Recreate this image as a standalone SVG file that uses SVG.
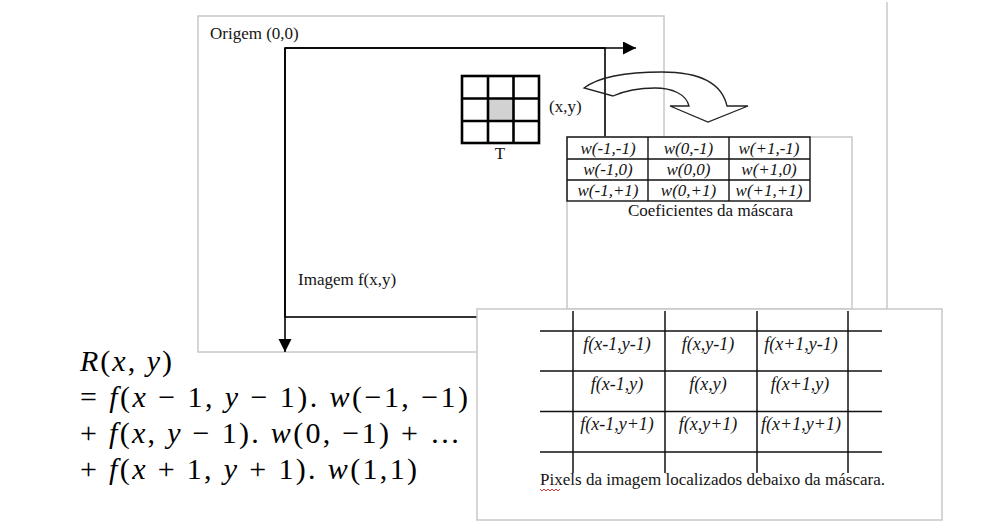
<svg xmlns="http://www.w3.org/2000/svg" width="981" height="527" viewBox="0 0 981 527">
<style>
  .page { fill: #fff; stroke: #c8c8c8; stroke-width: 1.5; }
  .blk { fill: none; stroke: #000; stroke-width: 1.6; }
  .grid { fill: none; stroke: #000; stroke-width: 2.6; }
  .tbl { fill: none; stroke: #111; stroke-width: 1.4; }
  .lbl { font-family: "Liberation Serif", "Times New Roman", serif; font-size: 17px; fill: #141414; }
  .it { font-family: "Liberation Serif", "Times New Roman", serif; font-size: 17px; font-style: italic; fill: #141414; text-anchor: middle; }
  .pit { font-size: 18px; }
  .eq { font-family: "Liberation Serif", "Times New Roman", serif; font-size: 30px; fill: #000; }
  .v { font-style: italic; }
</style>
<defs>
  <marker id="arrow" markerUnits="userSpaceOnUse" markerWidth="14" markerHeight="14" refX="13" refY="6.5" orient="auto">
    <path d="M0,0 L13,6.5 L0,13 Z" fill="#000"/>
  </marker>
</defs>

<rect width="981" height="527" fill="#fff"/>

<!-- background page edge -->
<line x1="887" y1="2" x2="887" y2="309" stroke="#c8c8c8" stroke-width="1.5"/>

<g id="image-frame">
  <rect class="page" x="198" y="16" width="466" height="336"/>
  <text class="lbl" x="210" y="39">Origem (0,0)</text>
  <rect class="blk" x="285" y="48" width="320" height="269"/>
  <text class="lbl" x="298" y="285">Imagem f(x,y)</text>
</g>

<g id="mask-T">
  <rect x="488" y="98.5" width="25.5" height="22.5" fill="#d2d2d2"/>
  <rect class="grid" x="462" y="76" width="77" height="67"/>
  <line class="grid" x1="488" y1="76" x2="488" y2="143"/>
  <line class="grid" x1="513.5" y1="76" x2="513.5" y2="143"/>
  <line class="grid" x1="462" y1="98.5" x2="539" y2="98.5"/>
  <line class="grid" x1="462" y1="121" x2="539" y2="121"/>
  <text class="lbl" x="500" y="159" text-anchor="middle">T</text>
  <text class="lbl" x="549" y="112">(x,y)</text>
</g>

<g id="connectors">
  <line x1="285" y1="48" x2="636" y2="48" stroke="#000" stroke-width="1.6" marker-end="url(#arrow)"/>
  <line x1="285" y1="48" x2="285" y2="352" stroke="#000" stroke-width="1.6" marker-end="url(#arrow)"/>
  <path d="M584,88 C600,76 630,72 662,72 C700,72 722,84 727,106 L748,106 L708,122 L670,106 L689,106 C686,94 672,88 655,88 C635,88 622,92 613,96 Z" fill="none" stroke="#222" stroke-width="1.3" stroke-linejoin="miter"/>
</g>

<g id="coef-box">
  <rect class="page" x="567" y="137" width="285" height="172"/>
  <rect class="tbl" x="567" y="137" width="243" height="64"/>
  <line class="tbl" x1="648" y1="137" x2="648" y2="201"/>
  <line class="tbl" x1="729" y1="137" x2="729" y2="201"/>
  <line class="tbl" x1="567" y1="159" x2="810" y2="159"/>
  <line class="tbl" x1="567" y1="180" x2="810" y2="180"/>
  <text class="it" x="608" y="154">w(-1,-1)</text>
  <text class="it" x="688.5" y="154">w(0,-1)</text>
  <text class="it" x="769" y="154">w(+1,-1)</text>
  <text class="it" x="608" y="175">w(-1,0)</text>
  <text class="it" x="688.5" y="175">w(0,0)</text>
  <text class="it" x="769" y="175">w(+1,0)</text>
  <text class="it" x="608" y="196">w(-1,+1)</text>
  <text class="it" x="688.5" y="196">w(0,+1)</text>
  <text class="it" x="769" y="196">w(+1,+1)</text>
  <text class="lbl" x="710.5" y="216" text-anchor="middle">Coeficientes da máscara</text>
</g>

<g id="pixel-box">
  <rect class="page" x="477" y="309" width="465" height="211"/>
  <g stroke="#111" stroke-width="1.5">
    <line x1="540" y1="331" x2="882" y2="331"/>
    <line x1="540" y1="371" x2="882" y2="371"/>
    <line x1="540" y1="411.5" x2="882" y2="411.5"/>
    <line x1="540" y1="452" x2="882" y2="452"/>
    <line x1="573" y1="311" x2="573" y2="473"/>
    <line x1="665" y1="311" x2="665" y2="473"/>
    <line x1="757" y1="311" x2="757" y2="473"/>
    <line x1="848" y1="311" x2="848" y2="473"/>
  </g>
  <text class="it pit" x="617" y="350">f(x-1,y-1)</text>
  <text class="it pit" x="708" y="350">f(x,y-1)</text>
  <text class="it pit" x="801" y="350">f(x+1,y-1)</text>
  <text class="it pit" x="617" y="390">f(x-1,y)</text>
  <text class="it pit" x="708" y="390">f(x,y)</text>
  <text class="it pit" x="800" y="390">f(x+1,y)</text>
  <text class="it pit" x="617" y="430">f(x-1,y+1)</text>
  <text class="it pit" x="708" y="430">f(x,y+1)</text>
  <text class="it pit" x="801" y="430">f(x+1,y+1)</text>
  <text class="lbl" x="540" y="485" textLength="345" lengthAdjust="spacing">Pixels da imagem localizados debaixo da máscara.</text>
  <polyline points="540,489 542,491 544,489 546,491 548,489 550,491 552,489 554,491 556,489 558,491 560,489" fill="none" stroke="#d22" stroke-width="0.9"/>
</g>

<g id="equation">
  <text class="eq" x="80" y="371" textLength="92" lengthAdjust="spacing"><tspan class="v">R</tspan>(<tspan class="v">x</tspan>, <tspan class="v">y</tspan>)</text>
  <text class="eq" x="80" y="407" textLength="388" lengthAdjust="spacing">= <tspan class="v">f</tspan>(<tspan class="v">x</tspan> − 1, <tspan class="v">y</tspan> − 1). <tspan class="v">w</tspan>(−1, −1)</text>
  <text class="eq" x="80" y="443" textLength="380" lengthAdjust="spacing">+ <tspan class="v">f</tspan>(<tspan class="v">x</tspan>, <tspan class="v">y</tspan> − 1). <tspan class="v">w</tspan>(0, −1) +  …</text>
  <text class="eq" x="80" y="479" textLength="337" lengthAdjust="spacing">+ <tspan class="v">f</tspan>(<tspan class="v">x</tspan> + 1, <tspan class="v">y</tspan> + 1). <tspan class="v">w</tspan>(1,1)</text>
</g>
</svg>
